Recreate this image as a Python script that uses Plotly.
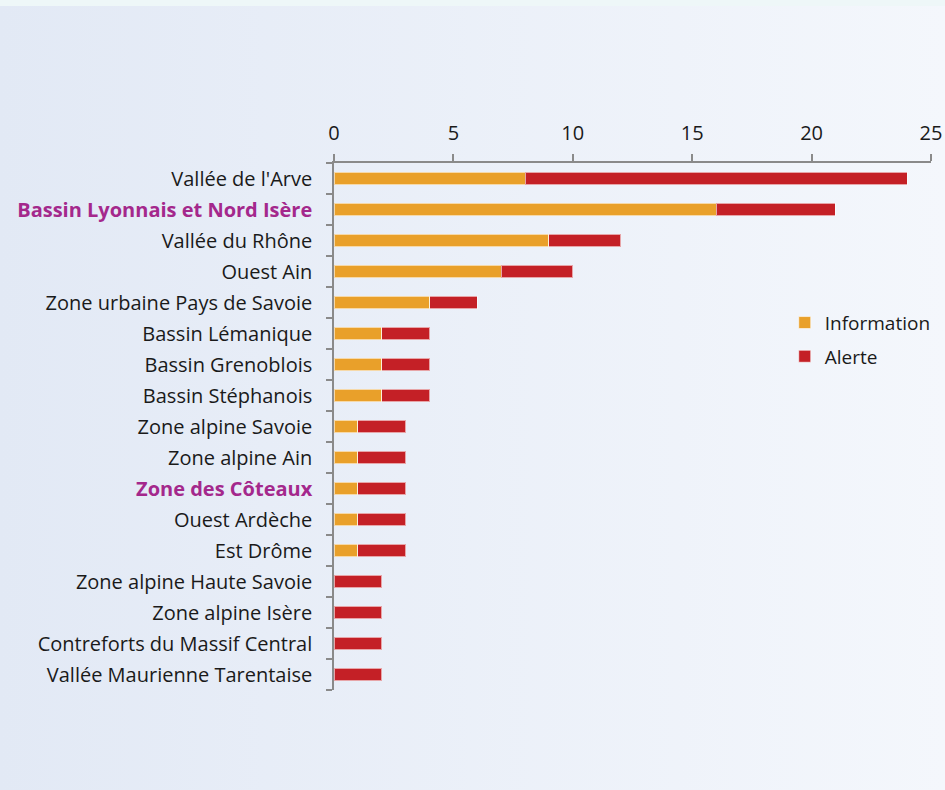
import base64
import plotly.graph_objects as go

categories = [
    "Vallée de l'Arve", "Bassin Lyonnais et Nord Isère", "Vallée du Rhône", "Ouest Ain",
    "Zone urbaine Pays de Savoie", "Bassin Lémanique", "Bassin Grenoblois", "Bassin Stéphanois",
    "Zone alpine Savoie", "Zone alpine Ain", "Zone des Côteaux", "Ouest Ardèche", "Est Drôme",
    "Zone alpine Haute Savoie", "Zone alpine Isère", "Contreforts du Massif Central",
    "Vallée Maurienne Tarentaise",
]
information = [8, 16, 9, 7, 4, 2, 2, 2, 1, 1, 1, 1, 1, 0, 0, 0, 0]
alerte = [16, 5, 3, 3, 2, 2, 2, 2, 2, 2, 2, 2, 2, 2, 2, 2, 2]
highlighted = ["Bassin Lyonnais et Nord Isère", "Zone des Côteaux"]
x_ticks = [0, 5, 10, 15, 20, 25]

ORANGE = "#E9A02A"
RED = "#C42026"
PURPLE = "#A4288C"
FONT = "Open Sans, Lato, sans-serif"

ticktext = []
for c in categories:
    if c in highlighted:
        ticktext.append(f"<b><span style='color:{PURPLE}'>{c}</span></b>")
    else:
        ticktext.append(c)

fig = go.Figure()
fig.add_trace(go.Bar(
    y=categories, x=information, orientation="h", name="Information", legendgroup="a",
    marker=dict(color=ORANGE, line=dict(color="rgba(255,255,255,0.6)", width=1)),
))
fig.add_trace(go.Bar(
    y=categories, x=alerte, orientation="h", name="Alerte", legendgroup="b",
    marker=dict(color=RED, line=dict(color="rgba(255,255,255,0.6)", width=1)),
))

W, H = 945, 790
L, R, T, B = 334, 14, 163, 100
pw, ph = W - L - R, H - T - B

svg = f"""<svg xmlns='http://www.w3.org/2000/svg' width='{W}' height='{H}' preserveAspectRatio='none'>
<defs><linearGradient id='g' x1='0' y1='0' x2='1' y2='0'>
<stop offset='0' stop-color='#E2E9F5'/><stop offset='1' stop-color='#F4F7FC'/></linearGradient></defs>
<rect width='{W}' height='{H}' fill='url(#g)'/>
<rect width='{W}' height='6' fill='#EEF7F8'/>
</svg>"""
src = "data:image/svg+xml;base64," + base64.b64encode(svg.encode()).decode()

fig.add_layout_image(dict(
    source=src, xref="paper", yref="paper",
    x=-L / pw, y=1 + T / ph, sizex=W / pw, sizey=H / ph,
    xanchor="left", yanchor="top", sizing="stretch", layer="below",
))

fig.update_layout(
    width=W, height=H,
    margin=dict(l=L, r=R, t=T, b=B, pad=0, autoexpand=False),
    barmode="stack", bargap=0.6,
    paper_bgcolor="#EAF0F8", plot_bgcolor="rgba(0,0,0,0)",
    font=dict(family=FONT, size=20, color="#1A1A1A"),
    showlegend=True,
    legend=dict(
        x=0.755, y=0.733, xanchor="left", yanchor="top",
        bgcolor="rgba(0,0,0,0)", font=dict(size=19),
        traceorder="grouped", tracegroupgap=6,
    ),
    xaxis=dict(
        side="top", range=[0, 25], tickvals=x_ticks, showgrid=False, zeroline=False,
        showline=True, linecolor="#8A8A8A", linewidth=1.5, automargin=False,
        ticks="outside", ticklen=7, tickcolor="#8A8A8A", tickwidth=1.5,
        ticklabelstandoff=6, tickfont=dict(size=20),
    ),
    yaxis=dict(
        categoryorder="array", categoryarray=categories,
        tickvals=categories, ticktext=ticktext, automargin=False,
        autorange="reversed", showgrid=False, zeroline=False,
        showline=True, linecolor="#8A8A8A", linewidth=1.5,
        ticks="outside", ticklen=6, tickcolor="#8A8A8A", tickwidth=1.5,
        tickson="boundaries", ticklabelstandoff=16,
        tickfont=dict(size=20),
    ),
)

fig.write_html(
    "out.html",
    config={"displayModeBar": False},
    post_script="document.body.style.margin='0';document.body.style.overflow='hidden';",
)
